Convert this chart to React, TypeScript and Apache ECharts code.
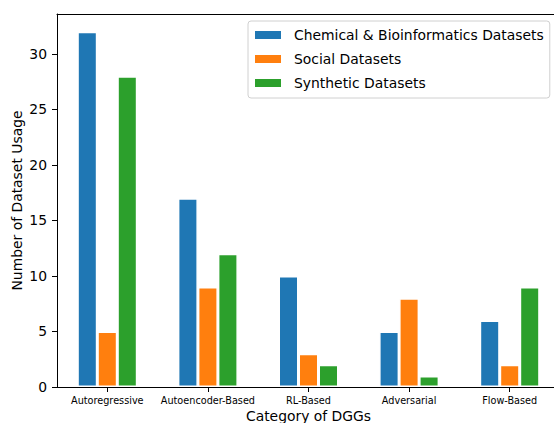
import React, { useEffect, useRef } from "react";
import * as echarts from "echarts";

const categories = ["Autoregressive", "Autoencoder-Based", "RL-Based", "Adversarial", "Flow-Based"];
const chemicalValues = [32, 17, 10, 5, 6];
const socialValues = [5, 9, 3, 8, 2];
const syntheticValues = [28, 12, 2, 1, 9];
const seriesNames = ["Chemical & Bioinformatics Datasets", "Social Datasets", "Synthetic Datasets"];
const colors = ["#1f77b4", "#ff7f0e", "#2ca02c"];
const yMax = 33.6;

const FONT = "DejaVu Sans";

export default function App() {
  const ref = useRef<HTMLDivElement>(null);
  useEffect(() => {
    if (!ref.current) return;
    const chart = echarts.init(ref.current, undefined, { renderer: "svg" });
    const dataSets = [chemicalValues, socialValues, syntheticValues];
    chart.setOption({
      animation: false,
      textStyle: { fontFamily: FONT },
      grid: { left: 57, top: 14, width: 503, bottom: 36, containLabel: false, outerBoundsMode: "none" },
      legend: {
        orient: "vertical",
        left: 248,
        top: 21,
        icon: "rect",
        itemWidth: 28,
        itemHeight: 10,
        itemGap: 10,
        padding: [7, 6, 8, 5],
        borderColor: "#d0d0d0",
        borderWidth: 1,
        borderRadius: 3,
        backgroundColor: "rgba(255,255,255,0.8)",
        textStyle: { fontFamily: FONT, fontSize: 13.9, color: "#000", padding: [0, 0, 0, 7] },
        data: seriesNames,
      },
      xAxis: [
        {
          type: "category",
          data: categories,
          position: "bottom",
          axisLine: { show: true, lineStyle: { color: "#000", width: 1 } },
          axisTick: { show: true, alignWithLabel: true, length: 5, lineStyle: { color: "#000" } },
          axisLabel: { fontFamily: FONT, fontSize: 9.7, color: "#000", margin: 8, interval: 0 },
          name: "Category of DGGs",
          nameLocation: "middle",
          nameGap: 22,
          nameMoveOverlap: false,
          nameTextStyle: { fontFamily: FONT, fontSize: 13.9, color: "#000" },
          splitLine: { show: false },
        },
        {
          type: "category",
          data: categories,
          position: "top",
          axisLine: { show: true, lineStyle: { color: "#000", width: 1 } },
          axisTick: { show: false },
          axisLabel: { show: false },
          splitLine: { show: false },
        },
      ],
      yAxis: {
        type: "value",
        min: 0,
        max: yMax,
        interval: 5,
        axisLine: { show: true, lineStyle: { color: "#000", width: 1 } },
        axisTick: { show: true, length: 5, lineStyle: { color: "#000" } },
        axisLabel: { fontFamily: FONT, fontSize: 13.9, color: "#000", margin: 10, showMaxLabel: false },
        splitLine: { show: false },
        name: "Number of Dataset Usage",
        nameLocation: "middle",
        nameGap: 33,
        nameMoveOverlap: false,
        nameRotate: 90,
        nameTextStyle: { fontFamily: FONT, fontSize: 13.9, color: "#000" },
      },
      series: seriesNames.map((name, i) => ({
        name,
        type: "bar",
        xAxisIndex: 0,
        data: dataSets[i],
        barWidth: 20,
        barGap: "0%",
        itemStyle: { color: colors[i], borderColor: "#fff", borderWidth: 1.5 },
      })),
    });
    return () => chart.dispose();
  }, []);
  return <div ref={ref} style={{ width: 554, height: 423, position: "absolute", left: 0, top: 0 }} />;
}
